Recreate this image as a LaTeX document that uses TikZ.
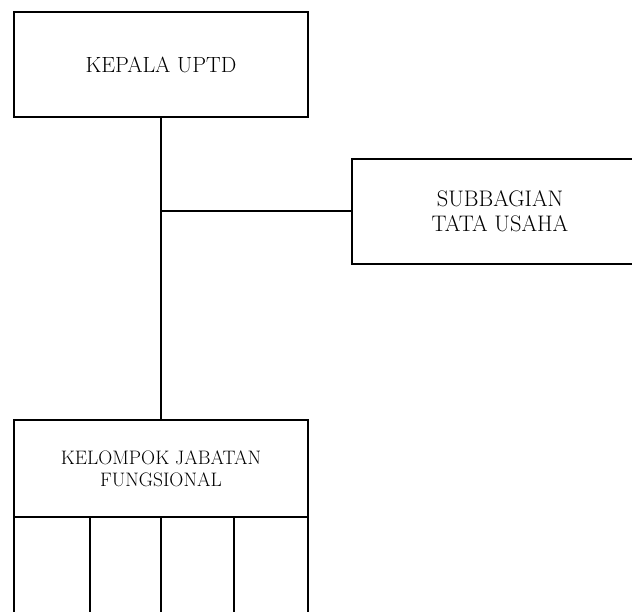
\documentclass[tikz,border=0pt]{standalone}
\begin{document}
\begin{tikzpicture}[x=1pt,y=-1pt,
  box/.style={draw=black, line width=2pt, fill=white, rectangle, inner sep=0pt, outer sep=0pt, align=center},
  conn/.style={draw=black, line width=2pt}]
\useasboundingbox (0,0) rectangle (632,612);
\clip (0,0) rectangle (632,612);
% boxes
\node[box, minimum width=294pt, minimum height=105pt,
      font=\fontsize{22}{26}\selectfont] (kepala) at (161,64.5) {KEPALA UPTD};
\node[box, minimum width=296pt, minimum height=105pt,
      font=\fontsize{22.5}{27}\selectfont] (subbag) at (500,211.5) {SUBBAGIAN\\[-2pt]TATA USAHA};
\node[box, minimum width=294pt, minimum height=97pt,
      font=\fontsize{19.5}{22}\selectfont] (kjf) at (161,468.5) {KELOMPOK JABATAN\\FUNGSIONAL};
% lower column part of the group box
\coordinate (lb) at (14,650);
\coordinate (rb) at (308,650);
\draw[conn] (kjf.south west) -- (lb);
\draw[conn] (kjf.south east) -- (rb);
% column dividers
\coordinate (c1t) at (90,517);  \coordinate (c1b) at (90,650);
\coordinate (c2t) at (161,517); \coordinate (c2b) at (161,650);
\coordinate (c3t) at (234,517); \coordinate (c3b) at (234,650);
\draw[conn] (c1t) -- (c1b);
\draw[conn] (c2t) -- (c2b);
\draw[conn] (c3t) -- (c3b);
% connectors
\coordinate (branch) at (161,211.5);
\draw[conn] (kepala.south) -- (kjf.north);
\draw[conn] (branch) -- (subbag.west);
\end{tikzpicture}
\end{document}
